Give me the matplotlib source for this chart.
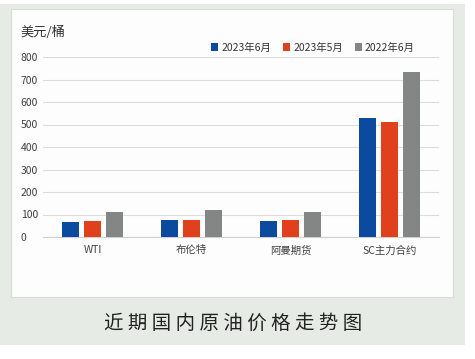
import numpy as np
import matplotlib
matplotlib.use('Agg')
import matplotlib.pyplot as plt
from matplotlib.patches import Rectangle

plt.rcParams['font.family'] = ['Noto Sans CJK SC', 'DejaVu Sans']

categories = ['WTI', '布伦特', '阿曼期货', 'SC主力合约']
series_names = ['2023年6月', '2023年5月', '2022年6月']
jun_2023 = [67, 76, 72, 527]
may_2023 = [71, 76, 75, 511]
jun_2022 = [113, 118, 113, 732]
colors = ['#0b4a9e', '#e0401c', '#848686']

fig = plt.figure(figsize=(4.75, 3.59), dpi=100)
fig.patch.set_facecolor('white')
# outer grey-green band and inner white panel
fig.patches.append(Rectangle((0, 14/359), 465/475, 341/359, transform=fig.transFigure,
                             facecolor='#e7ebe5', edgecolor='none', zorder=-2))
fig.patches.append(Rectangle((11/475, 62/359), 442/475, 288/359, transform=fig.transFigure,
                             facecolor='#fdfdfd', edgecolor='#d8dcd6', lw=0.8, zorder=-1))

ax = fig.add_axes([43/475, 122/359, 396/475, 180/359])
ax.set_facecolor('none')
x = np.arange(len(categories))
w = 0.17
off = 0.22
for i, (vals, name) in enumerate(zip([jun_2023, may_2023, jun_2022], series_names)):
    ax.bar(x + (i - 1) * off, vals, w, color=colors[i], label=name, zorder=3)

ax.set_xlim(-0.5, 3.5)
ax.set_ylim(0, 800)
ax.set_yticks(range(0, 801, 100))
ax.grid(axis='y', color='#dcdcdc', lw=0.8, zorder=0)
for s in ['top', 'right', 'left']:
    ax.spines[s].set_visible(False)
ax.spines['bottom'].set_color('#d0d0d0')
ax.tick_params(axis='both', length=0, labelsize=7.5, labelcolor='#404040')
ax.tick_params(axis='y', pad=16)
ax.tick_params(axis='x', pad=6)
ax.set_xticks(x)
ax.set_xticklabels(categories)
for t in ax.get_yticklabels():
    t.set_ha('left')
    t.set_fontweight('medium')
for t in ax.get_xticklabels():
    t.set_fontweight('medium')

fig.text(20/475, 1 - 32/359, '美元/桶', fontsize=9.5, color='#333333', va='center')
leg = ax.legend(loc='lower right', bbox_to_anchor=(0.955, 0.99), ncol=3, frameon=False,
                fontsize=7.5, handlelength=0.7, handleheight=0.7, handletextpad=0.3,
                columnspacing=1.1, borderaxespad=0.2, labelcolor='#333333')

fig.text(233/475, 1 - 323/359, '近 期 国 内 原 油 价 格 走 势 图', fontsize=14,
         color='#222222', ha='center', va='center')

plt.savefig('out.png', dpi=100)
